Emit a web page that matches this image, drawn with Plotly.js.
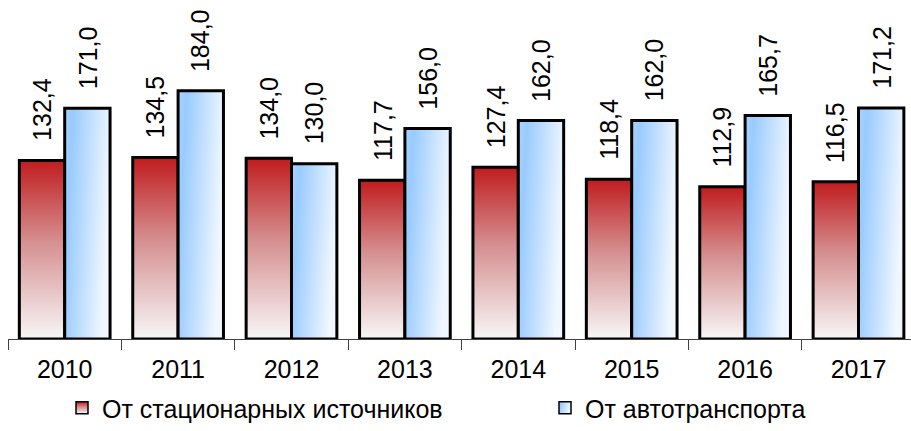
<!DOCTYPE html>
<html>
<head>
<meta charset="utf-8">
<script src="https://cdn.plot.ly/plotly-3.0.1.min.js"></script>
<style>
  html, body { margin: 0; padding: 0; background: #ffffff; }
  #chart { width: 911px; height: 431px; }
  #chart .barlayer .trace:nth-child(1) path { fill: url(#gradRed) !important; }
  #chart .barlayer .trace:nth-child(2) path { fill: url(#gradBlue) !important; }
  #chart g.legend .legendpoints path { fill: url(#gradRed) !important; stroke: #000000 !important; stroke-width: 1.5px !important; }
  #chart g.legend2 .legendpoints path { fill: url(#gradBlue) !important; stroke: #000000 !important; stroke-width: 1.5px !important; }
</style>
</head>
<body>
<svg width="0" height="0" style="position:absolute">
  <defs>
    <linearGradient id="gradRed" x1="0" y1="0" x2="0" y2="1">
      <stop offset="0" stop-color="#c01c1e"/>
      <stop offset="0.45" stop-color="#d58e8f"/>
      <stop offset="1" stop-color="#f8f7f7"/>
    </linearGradient>
    <linearGradient id="gradBlue" x1="0" y1="0" x2="1" y2="0.25">
      <stop offset="0" stop-color="#a9d3ff"/>
      <stop offset="0.18" stop-color="#99cbff"/>
      <stop offset="1" stop-color="#f0f7ff"/>
    </linearGradient>
  </defs>
</svg>
<div id="chart"></div>
<script>
const years = ['2010', '2011', '2012', '2013', '2014', '2015', '2016', '2017'];
const stationary = [132.4, 134.5, 134.0, 117.7, 127.4, 118.4, 112.9, 116.5];
const transport = [171.0, 184.0, 130.0, 156.0, 162.0, 162.0, 165.7, 171.2];
const seriesNames = ['От стационарных источников', 'От автотранспорта'];

const fmt = v => v.toFixed(1).replace('.', ',');
const FONT = 'Arial, "Liberation Sans", sans-serif';

const traces = [
  {
    type: 'bar', name: seriesNames[0], x: years, y: stationary, legend: 'legend',
    marker: { color: '#c01c1e', line: { color: '#000000', width: 3 } },
    hoverinfo: 'none'
  },
  {
    type: 'bar', name: seriesNames[1], x: years, y: transport, legend: 'legend2',
    marker: { color: '#99cbff', line: { color: '#000000', width: 3 } },
    hoverinfo: 'none'
  }
];

const annotations = [];
[stationary, transport].forEach((arr, s) => {
  arr.forEach((v, i) => {
    annotations.push({
      xref: 'x', yref: 'y', x: i + (s === 0 ? -0.2 : 0.2), y: v,
      text: fmt(v), textangle: -90, showarrow: false,
      xanchor: 'center', yanchor: 'bottom', yshift: 17,
      font: { family: FONT, size: 25, color: '#000000' }
    });
  });
});

const legendBase = {
  orientation: 'h', xref: 'container', yref: 'container',
  xanchor: 'left', yanchor: 'bottom', y: 0,
  font: { family: FONT, size: 25, color: '#000000' },
  itemwidth: 30, bgcolor: 'rgba(0,0,0,0)'
};

const layout = {
  width: 911, height: 431,
  margin: { l: 8, r: 0, t: 0, b: 92 },
  paper_bgcolor: '#ffffff', plot_bgcolor: '#ffffff',
  barmode: 'group', bargap: 0.2, bargroupgap: 0,
  showlegend: true,
  legend: Object.assign({}, legendBase, { x: 62 / 911 }),
  legend2: Object.assign({}, legendBase, { x: 545 / 911 }),
  xaxis: {
    type: 'category', range: [-0.5, 7.463],
    showline: true, linecolor: '#404040', linewidth: 1,
    ticks: 'outside', tickson: 'boundaries', ticklen: 10, tickcolor: '#404040', tickwidth: 1,
    ticklabelstandoff: 8,
    showgrid: false, zeroline: false, automargin: false,
    tickfont: { family: FONT, size: 25, color: '#000000' }
  },
  yaxis: {
    visible: false, range: [0, 251.3], showgrid: false, zeroline: false
  },
  annotations: annotations
};

Plotly.newPlot('chart', traces, layout, { displayModeBar: false, staticPlot: true });
</script>
</body>
</html>
